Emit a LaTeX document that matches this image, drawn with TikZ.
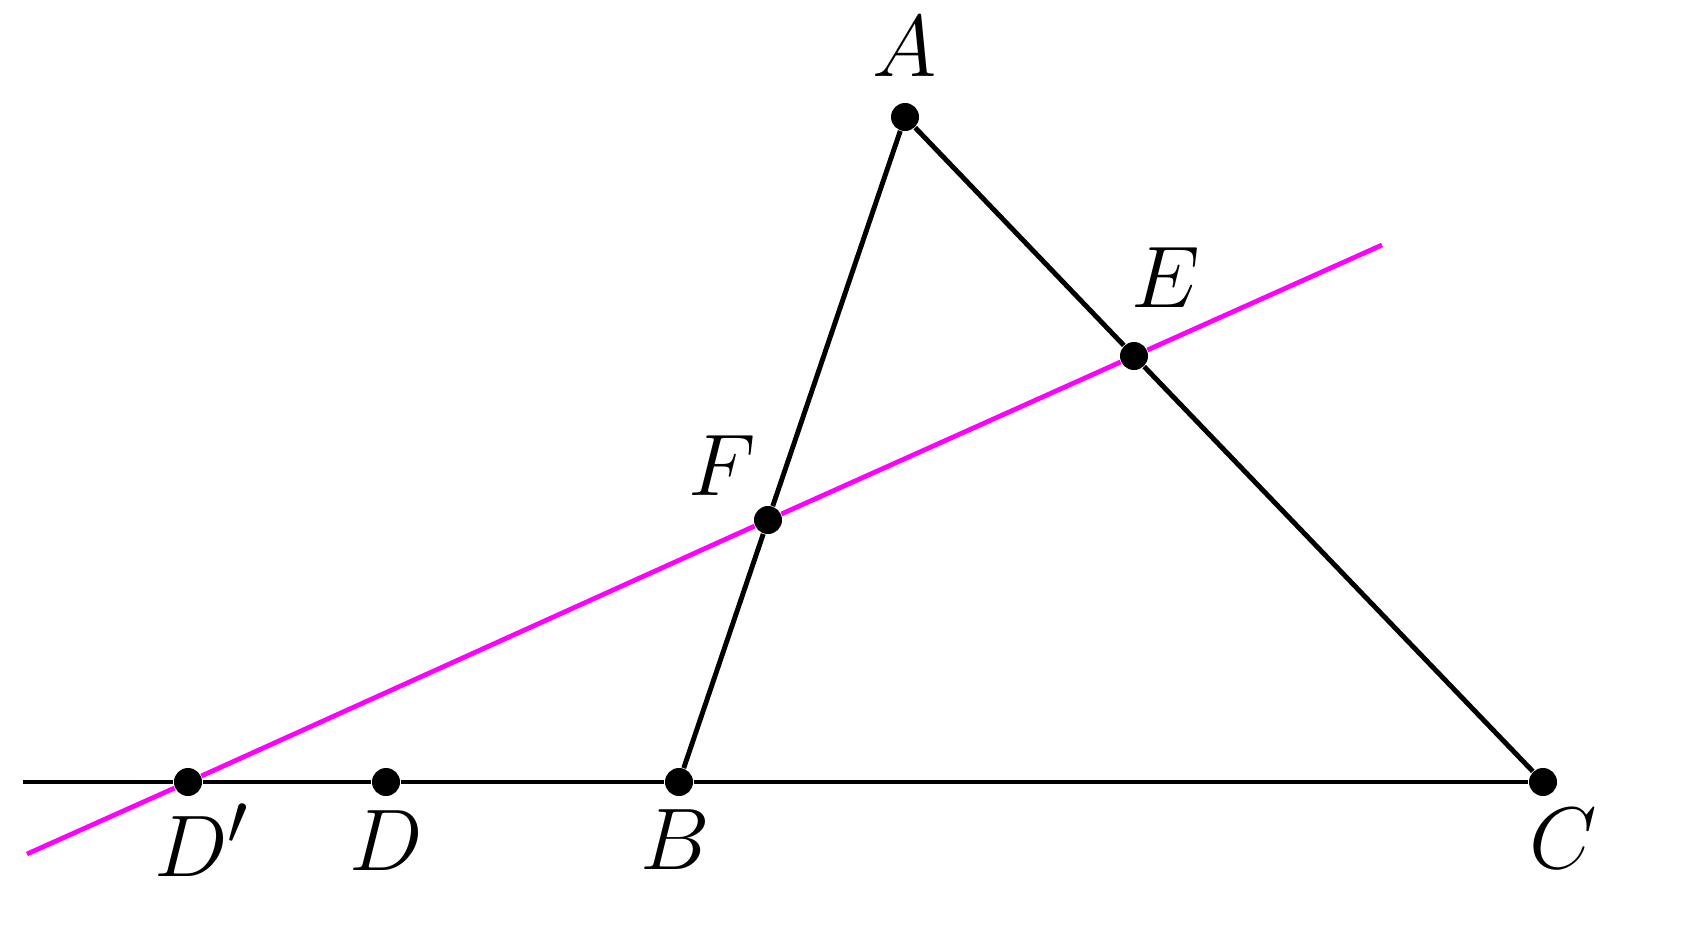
\documentclass[tikz,border=0pt]{standalone}
\usetikzlibrary{positioning}
\definecolor{cutpink}{RGB}{255,0,255}
\tikzset{dot/.style = {circle, fill=black, inner sep=0pt, minimum size=0.28cm}}
\tikzset{lbl/.style = {inner sep=0pt, font=\Huge}}
\tikzset{side/.style = {draw=black, line width=1.4pt}}
\tikzset{cut/.style = {draw=cutpink, line width=1.35pt}}

\begin{document}
\begin{tikzpicture}[x=0.01cm, y=-0.01cm, on grid]
  \useasboundingbox (0,0) rectangle (1697,927);
  % points
  \node [dot] (A) at (905,117) {};
  \node [dot] (B) at (679,782) {};
  \node [dot] (C) at (1543,782) {};
  \node [dot] (D) at (386,782) {};
  \node [dot] (Dp) at (188,782) {};
  \node [dot] (E) at (1134,356) {};
  \node [dot] (F) at (768,520) {};
  \coordinate (l0) at (23,782);
  \coordinate (m1) at (27,854);
  \coordinate (m2) at (1382,245);
  % labels
  \node [lbl, above=0.70cm of A] (lA) {$A$};
  \node [lbl, below left=0.58cm and 0.04cm of B] (lB) {$B$};
  \node [lbl, below right=0.57cm and 0.20cm of C] (lC) {$C$};
  \node [lbl, below=0.59cm of D] (lD) {$D$};
  \node [lbl, below right=0.58cm and 0.14cm of Dp] (lDp) {$D'$};
  \node [lbl, above right=0.78cm and 0.32cm of E] (lE) {$E$};
  \node [lbl, above left=0.54cm and 0.46cm of F] (lF) {$F$};
  % lines
  \path [side] (l0) -- (Dp) -- (D) -- (B) -- (C);
  \path [side] (A) -- (F) -- (B);
  \path [side] (A) -- (E) -- (C);
  \path [cut] (m1) -- (Dp) -- (F) -- (E) -- (m2);
\end{tikzpicture}
\end{document}
